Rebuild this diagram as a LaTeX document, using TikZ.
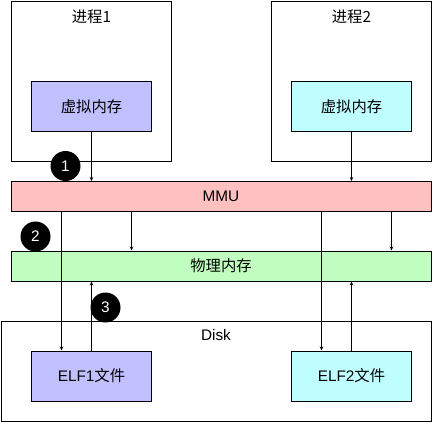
\documentclass[tikz,border=0pt]{standalone}
\usepackage{fontspec}
\setmainfont{Liberation Sans}
\newfontfamily\cjk{Noto Sans CJK SC}
\usetikzlibrary{arrows.meta, positioning}

\definecolor{lilac}{HTML}{C0C0FF}
\definecolor{rose}{HTML}{FFC0C0}
\definecolor{mint}{HTML}{C0FFC0}
\definecolor{aqua}{HTML}{C0FFFF}

\begin{document}
\begin{tikzpicture}[
            x=0.75pt, y=-0.75pt,
            >={Stealth[length=3pt, width=2.6pt]},
            font=\fontsize{11.5}{13}\selectfont,
            every path/.style={line width=0.75pt},
            frame/.style={draw, rectangle, minimum width=120pt, minimum height=120pt},
            block/.style={draw, rectangle, minimum width=90pt, minimum height=37.5pt},
            bar/.style={draw, rectangle, minimum width=315pt, minimum height=22.5pt},
            badge/.style={circle, fill=black, text=white, minimum size=22.5pt, inner sep=0pt}
        ]

        \useasboundingbox (0,0) rectangle (432,422);

        % Processi
        \node[frame] (p1) at (91.5, 81.5) {};
        \node[frame] (p2) at (351.5, 81.5) {};
        \node at (91.5, 17) {\cjk 进程1};
        \node at (351.5, 17) {\cjk 进程2};
        \node[block, fill=lilac] (vm1) at (91.5, 106.5) {\cjk 虚拟内存};
        \node[block, fill=aqua] (vm2) at (351.5, 106.5) {\cjk 虚拟内存};

        % MMU e memoria fisica
        \node[bar, fill=rose] (mmu) at (221, 196.5) {MMU};
        \node[bar, fill=mint] (phys) at (221, 266) {\cjk 物理内存};

        % Disco
        \node[draw, rectangle, minimum width=322.5pt, minimum height=75pt] (disk) at (216, 371) {};
        \node at (216, 335) {Disk};
        \node[block, fill=lilac] (elf1) at (91.5, 376) {ELF1{\cjk 文件}};
        \node[block, fill=aqua] (elf2) at (351.5, 376) {ELF2{\cjk 文件}};

        % Frecce
        \draw[->] (vm1.south) -- (vm1.south |- mmu.north);
        \draw[->] (vm2.south) -- (vm2.south |- mmu.north);
        \draw[->] ([xshift=30pt]vm1.south |- mmu.south) -- ([xshift=30pt]vm1.south |- phys.north);
        \draw[->] ([xshift=30pt]vm2.south |- mmu.south) -- ([xshift=30pt]vm2.south |- phys.north);
        \draw[->] ([xshift=-22.5pt]elf1.north |- mmu.south) -- ([xshift=-22.5pt]elf1.north);
        \draw[->] ([xshift=-22.5pt]elf2.north |- mmu.south) -- ([xshift=-22.5pt]elf2.north);
        \draw[->] (elf1.north) -- (elf1.north |- phys.south);
        \draw[->] (elf2.north) -- (elf2.north |- phys.south);

        % Passi
        \node[badge] (s1) at (65.5, 166) {1};
        \node[badge] (s2) at (35.5, 236.5) {2};
        \node[badge] (s3) at (105.5, 307.5) {3};

\end{tikzpicture}
\end{document}
